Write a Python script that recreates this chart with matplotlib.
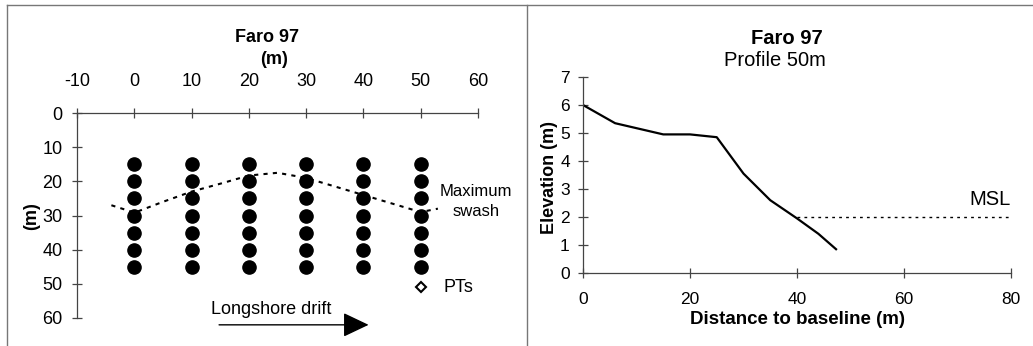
import numpy as np
import matplotlib.pyplot as plt
from matplotlib.lines import Line2D

plt.rcParams['font.family'] = ['Liberation Sans', 'DejaVu Sans']
plt.rcParams['axes.unicode_minus'] = False

# left panel: sensor grid
grid_x = [0, 10, 20, 30, 40, 50]
grid_y = [15, 20, 25, 30, 35, 40, 45]
swash_x = [-4, -1, 0, 5, 10, 15, 20, 25, 30, 35, 40, 45, 50, 53]
swash_y = [27, 28.6, 29.2, 26, 23, 20.7, 18.3, 17.5, 19, 21.5, 24, 26.5, 29, 28]
pts_x = [50]
pts_y = [51]

# right panel: profile 50m
prof_x = [0, 6, 15, 20, 25, 30, 35, 40, 44, 47.3]
prof_y = [6.0, 5.35, 4.95, 4.95, 4.85, 3.55, 2.6, 1.95, 1.4, 0.85]
msl_x = [40, 80]
msl_y = [2, 2]

W, H = 1033, 346
fig = plt.figure(figsize=(W / 100, H / 100), dpi=100)

def fx(px):
    return px / W

def fy(py):
    return 1 - py / H

axis_col = '#444444'

# ---------- left ----------
ax1 = fig.add_axes([fx(77), fy(318), fx(478) - fx(77), fy(113) - fy(318)])
gx, gy = np.meshgrid(grid_x, grid_y)
ax1.plot(gx.ravel(), gy.ravel(), 'o', color='black', markersize=9.5, zorder=3)
ax1.plot(swash_x, swash_y, color='black', lw=1.5, linestyle=(0, (2, 2.5)), zorder=4)
ax1.plot(pts_x, pts_y, 'D', markersize=5, markerfacecolor='white',
         markeredgecolor='black', markeredgewidth=1.5, zorder=3)
ax1.text(53.9, 51, 'PTs', fontsize=13, va='center', ha='left')
ax1.text(59.6, 25.8, 'Maximum\nswash', fontsize=12, va='center', ha='center',
         linespacing=1.4)
ax1.text(23.9, 57.6, 'Longshore drift', fontsize=13, va='center', ha='center')
ax1.annotate('', xy=(40.9, 62), xytext=(14.8, 62), xycoords='data',
             annotation_clip=False,
             arrowprops=dict(arrowstyle='-|>,head_length=0.8,head_width=0.38',
                             mutation_scale=20, color='black', lw=1.0,
                             shrinkA=0, shrinkB=0))

ax1.set_xlim(-10, 60)
ax1.set_ylim(60, 0)
ax1.set_xticks(range(-10, 61, 10))
ax1.set_yticks(range(0, 61, 10))
ax1.xaxis.tick_top()
for s in ['right', 'bottom']:
    ax1.spines[s].set_visible(False)
for s in ['top', 'left']:
    ax1.spines[s].set_color(axis_col)
    ax1.spines[s].set_linewidth(0.9)
ax1.tick_params(axis='x', direction='inout', length=7, width=0.9, color=axis_col,
                labelsize=13, pad=13)
ax1.tick_params(axis='y', direction='inout', length=7, width=0.9, color=axis_col,
                labelsize=13, pad=7)
ax1.set_facecolor('none')

fig.text(fx(267), fy(37), 'Faro 97', fontsize=13, fontweight='bold', ha='center', va='center')
fig.text(fx(274), fy(60), '(m)', fontsize=13, fontweight='bold', ha='center', va='center')
fig.text(fx(32), fy(216), '(m)', fontsize=13, fontweight='bold', ha='center', va='center',
         rotation=90)

# ---------- right ----------
ax2 = fig.add_axes([fx(583), fy(273), fx(1011) - fx(583), fy(77) - fy(273)])
ax2.plot(prof_x, prof_y, color='black', lw=1.6)
ax2.plot(msl_x, msl_y, color='black', lw=1.0, linestyle=(0, (2, 3)))
ax2.text(80, 2.3, 'MSL', fontsize=14.5, ha='right', va='bottom')
ax2.set_xlim(0, 80)
ax2.set_ylim(0, 7)
ax2.set_xticks(range(0, 81, 20))
ax2.set_yticks(range(0, 8))
for s in ['right', 'top']:
    ax2.spines[s].set_visible(False)
for s in ['bottom', 'left']:
    ax2.spines[s].set_color(axis_col)
    ax2.spines[s].set_linewidth(0.9)
ax2.tick_params(axis='x', direction='inout', length=7, width=0.9, color=axis_col,
                labelsize=12.5, pad=10)
ax2.tick_params(axis='y', direction='inout', length=7, width=0.9, color=axis_col,
                labelsize=12.5, pad=6)
ax2.set_facecolor('none')

fig.text(fx(787), fy(38), 'Faro 97', fontsize=14.5, fontweight='bold', ha='center', va='center')
fig.text(fx(775), fy(61), 'Profile 50m', fontsize=14.5, ha='center', va='center')
fig.text(fx(797), fy(320), 'Distance to baseline (m)', fontsize=13.5, fontweight='bold',
         ha='center', va='center')
fig.text(fx(550), fy(178), 'Elevation (m)', fontsize=13, fontweight='bold',
         ha='center', va='center', rotation=90)

# ---------- frame ----------
frame_col = '#777777'
fig.add_artist(Line2D([fx(7), 1], [fy(5), fy(5)], color=frame_col, lw=1))
fig.add_artist(Line2D([fx(7), fx(7)], [fy(5), 0], color=frame_col, lw=1))
fig.add_artist(Line2D([fx(527), fx(527)], [fy(5), 0], color=frame_col, lw=1))

fig.savefig('out.png', dpi=100)
